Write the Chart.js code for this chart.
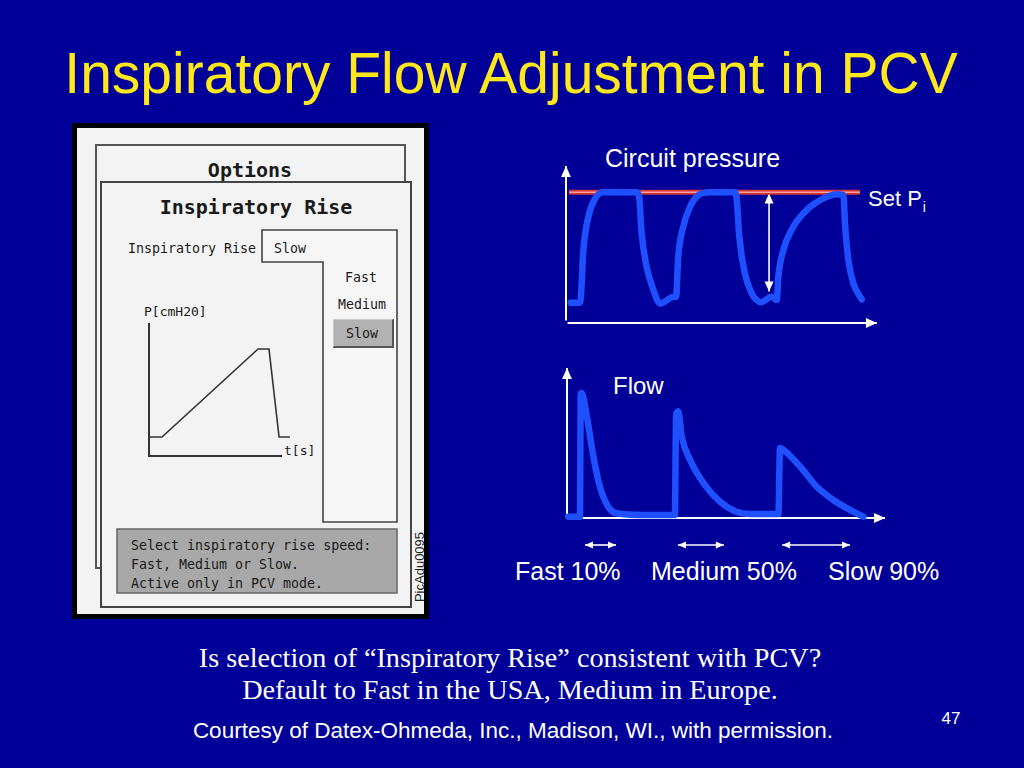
<!DOCTYPE html>
<html>
<head>
<meta charset="utf-8">
<script src="https://cdn.jsdelivr.net/npm/chart.js@4.4.1/dist/chart.umd.min.js"></script>
<style>
  html, body { margin: 0; padding: 0; background: #000099; }
  #slide { position: relative; width: 1024px; height: 768px; background: #000099; overflow: hidden; }
  #slide svg { position: absolute; left: 0; top: 0; }
  canvas { position: absolute; }
  #screenChart { left: 140px; top: 318px; }
  #pressChart { left: 556px; top: 150px; }
  #flowChart { left: 556px; top: 355px; }
  .mono { font-family: "DejaVu Sans Mono", monospace; fill: #1a1a1a; }
  .sans { font-family: "Liberation Sans", Arial, sans-serif; }
  .serif { font-family: "Liberation Serif", "Times New Roman", serif; }
</style>
</head>
<body>
<div id="slide">
<svg width="1024" height="768" viewBox="0 0 1024 768">
  <text x="511" y="93" text-anchor="middle" class="sans" font-size="57" fill="#ffe81a">Inspiratory Flow Adjustment in PCV</text>

  <!-- screenshot of the ventilator screen -->
  <rect x="72" y="123" width="357" height="496" fill="#000"/>
  <rect x="77" y="128" width="347" height="486" fill="#f3f3f3"/>
  <rect x="96" y="145" width="309" height="423" fill="#f3f3f3" stroke="#555" stroke-width="2"/>
  <text x="250" y="170" text-anchor="middle" dominant-baseline="central" class="mono" font-size="20" font-weight="bold" fill="#111">Options</text>
  <rect x="101" y="182" width="310" height="425" fill="#f3f3f3" stroke="#444" stroke-width="2"/>
  <text x="256" y="207" text-anchor="middle" dominant-baseline="central" class="mono" font-size="20" font-weight="bold" fill="#111">Inspiratory Rise</text>
  <text x="128" y="248" dominant-baseline="central" class="mono" font-size="13.3">Inspiratory Rise</text>
  <path d="M262,230 H397 V522 H323 V262 H262 Z" fill="#f6f6f6" stroke="#444" stroke-width="1.6"/>
  <text x="274" y="248" dominant-baseline="central" class="mono" font-size="13.3">Slow</text>
  <text x="361" y="277" text-anchor="middle" dominant-baseline="central" class="mono" font-size="13.3">Fast</text>
  <text x="362" y="304" text-anchor="middle" dominant-baseline="central" class="mono" font-size="13.3">Medium</text>
  <rect x="333" y="319" width="60" height="28" fill="#b2b2b2"/>
  <path d="M333,347 H393 V319" fill="none" stroke="#555" stroke-width="2"/>
  <path d="M333,347 V319 H393" fill="none" stroke="#e8e8e8" stroke-width="1"/>
  <text x="362" y="333" text-anchor="middle" dominant-baseline="central" class="mono" font-size="13.3">Slow</text>
  <text x="144" y="311" dominant-baseline="central" class="mono" font-size="13">P[cmH20]</text>
  <text x="284" y="450" dominant-baseline="central" class="mono" font-size="13">t[s]</text>
  <rect x="117" y="529" width="280" height="64" fill="#a8a8a8" stroke="#666" stroke-width="1.5"/>
  <text x="131" y="545" dominant-baseline="central" class="mono" font-size="13.3">Select inspiratory rise speed:</text>
  <text x="131" y="564" dominant-baseline="central" class="mono" font-size="13.3">Fast, Medium or Slow.</text>
  <text x="131" y="583" dominant-baseline="central" class="mono" font-size="13.3">Active only in PCV mode.</text>
  <text x="419" y="567" text-anchor="middle" dominant-baseline="central" class="sans" font-size="13" fill="#222" transform="rotate(-90 419 567)">PicAdu0095</text>

  <!-- chart labels -->
  <text x="605" y="167" class="sans" font-size="25" fill="#fff">Circuit pressure</text>
  <text x="868" y="206" class="sans" font-size="22" fill="#fff">Set P<tspan font-size="14" dy="6" dx="1">i</tspan></text>
  <text x="613" y="394" class="sans" font-size="24" fill="#fff">Flow</text>
  <text x="515" y="580" class="sans" font-size="25" fill="#fff">Fast 10%</text>
  <text x="651" y="580" class="sans" font-size="25" fill="#fff">Medium 50%</text>
  <text x="828" y="580" class="sans" font-size="25" fill="#fff">Slow 90%</text>

  <text x="510" y="667" text-anchor="middle" class="serif" font-size="28.2" fill="#fff">Is selection of “Inspiratory Rise” consistent with PCV?</text>
  <text x="510" y="699" text-anchor="middle" class="serif" font-size="28.2" fill="#fff">Default to Fast in the USA, Medium in Europe.</text>
  <text x="513" y="738" text-anchor="middle" class="sans" font-size="22.5" fill="#fff">Courtesy of Datex-Ohmeda, Inc., Madison, WI., with permission.</text>
  <text x="951" y="724" text-anchor="middle" class="sans" font-size="17" fill="#fff">47</text>
</svg>
<canvas id="screenChart" width="160" height="145"></canvas>
<canvas id="pressChart" width="340" height="185"></canvas>
<canvas id="flowChart" width="340" height="200"></canvas>
</div>
<script>
// circuit pressure, % of set Pi, over time (arbitrary units)
const pressT = [1.5, 4.3, 4.7, 5.6, 7.2, 9.4, 12.0, 22.8, 23.6, 24.4, 26.0, 28.2, 30.3, 34.8,
  35.5, 36.2, 37.8, 40.0, 42.7, 46.5, 54.5, 55.1, 55.9, 57.7, 59.9, 61.5, 62.8, 66.4,
  68.0, 68.5, 70.1, 73.3, 77.6, 83.0, 87.3, 89.5, 90.0, 91.1, 92.7, 95.4];
const pressV = [15.5, 15.5, 17.6, 55.7, 81.1, 95.2, 100, 100, 96.4, 68.5, 43.0, 25.2, 15.0, 20.1,
  20.1, 50.6, 73.5, 88.8, 97.7, 100, 100, 93.9, 65.9, 37.9, 22.7, 17.6, 15.8, 20.1,
  17.6, 35.3, 55.7, 73.5, 86.3, 95.2, 98.5, 97.7, 76.1, 48.1, 30.3, 18.1];
const setPiT = [1, 94.8];
const setPiV = [100, 100];

// inspiratory flow over the same time axis
const flowT = [0.4, 4.2, 4.4, 4.7, 6.4, 8.5, 10.6, 13.3, 16.0, 24.6, 34.8,
  35.2, 35.9, 37.0, 39.7, 44.0, 49.4, 54.7, 59.0, 68.2,
  68.7, 69.8, 75.2, 80.5, 85.9, 91.3, 95.6];
const flowV = [1.0, 1.0, 94.6, 95.9, 77.9, 47.2, 24.1, 8.7, 3.6, 2.3, 2.3,
  79.2, 81.8, 62.5, 44.6, 26.7, 12.5, 4.8, 3.1, 3.1,
  53.6, 52.3, 39.5, 24.1, 13.8, 6.2, 1.0];

// rise time ranges (Fast 10%, Medium 50%, Slow 90%)
const riseStart = [5.8, 35.8, 69.4];
const riseEnd = [15.8, 50.6, 91.3];

// pressure curve shown on the ventilator screen
const screenT = [0, 0.93, 7.79, 8.57, 9.29, 10.07];
const screenV = [1.43, 1.43, 8.05, 8.05, 1.43, 1.43];

const pts = (xs, ys) => xs.map((x, i) => ({ x: x, y: ys[i] }));

function head(ctx, x, y, ang, size) {
  const w = size * 0.45;
  ctx.beginPath();
  ctx.moveTo(x, y);
  ctx.lineTo(x - size * Math.cos(ang) + w * Math.sin(ang), y - size * Math.sin(ang) - w * Math.cos(ang));
  ctx.lineTo(x - size * Math.cos(ang) - w * Math.sin(ang), y - size * Math.sin(ang) + w * Math.cos(ang));
  ctx.closePath();
  ctx.fill();
}

function arrowLine(ctx, x1, y1, x2, y2, size, both) {
  const ang = Math.atan2(y2 - y1, x2 - x1);
  ctx.beginPath();
  ctx.moveTo(x1, y1);
  ctx.lineTo(x2, y2);
  ctx.stroke();
  head(ctx, x2, y2, ang, size);
  if (both) head(ctx, x1, y1, ang + Math.PI, size);
}

function baseOptions(padding, xMax, yMax) {
  return {
    responsive: false,
    animation: false,
    layout: { padding: padding },
    scales: {
      x: { type: 'linear', display: false, min: 0, max: xMax },
      y: { type: 'linear', display: false, min: 0, max: yMax }
    },
    plugins: { legend: { display: false }, tooltip: { enabled: false } },
    elements: { point: { radius: 0 } }
  };
}

const pressAxes = {
  id: 'pressAxes',
  beforeDatasetsDraw(chart) {
    const ctx = chart.ctx, x = chart.scales.x, y = chart.scales.y;
    ctx.save();
    ctx.strokeStyle = '#fff';
    ctx.fillStyle = '#fff';
    ctx.lineWidth = 2;
    arrowLine(ctx, x.getPixelForValue(0), y.getPixelForValue(2), x.getPixelForValue(0), y.getPixelForValue(120), 11, false);
    arrowLine(ctx, x.getPixelForValue(0.5), y.getPixelForValue(0), x.getPixelForValue(100.3), y.getPixelForValue(0), 11, false);
    ctx.lineWidth = 1.6;
    arrowLine(ctx, x.getPixelForValue(65.5), y.getPixelForValue(24), x.getPixelForValue(65.5), y.getPixelForValue(99), 10, true);
    ctx.restore();
  }
};

const flowAxes = {
  id: 'flowAxes',
  beforeDatasetsDraw(chart) {
    const ctx = chart.ctx, x = chart.scales.x, y = chart.scales.y;
    ctx.save();
    ctx.strokeStyle = '#fff';
    ctx.fillStyle = '#fff';
    ctx.lineWidth = 2;
    arrowLine(ctx, x.getPixelForValue(0), y.getPixelForValue(-0.5), x.getPixelForValue(0), y.getPixelForValue(115), 11, false);
    arrowLine(ctx, x.getPixelForValue(0), y.getPixelForValue(0), x.getPixelForValue(102.6), y.getPixelForValue(0), 11, false);
    ctx.lineWidth = 1.6;
    const ay = chart.chartArea.bottom + 27;
    riseStart.forEach((s, i) => {
      arrowLine(ctx, x.getPixelForValue(s), ay, x.getPixelForValue(riseEnd[i]), ay, 8, true);
    });
    ctx.restore();
  }
};

const screenAxes = {
  id: 'screenAxes',
  beforeDatasetsDraw(chart) {
    const ctx = chart.ctx, x = chart.scales.x, y = chart.scales.y;
    ctx.save();
    ctx.strokeStyle = '#333';
    ctx.lineWidth = 2;
    ctx.beginPath();
    ctx.moveTo(x.getPixelForValue(0), y.getPixelForValue(10));
    ctx.lineTo(x.getPixelForValue(0), y.getPixelForValue(0));
    ctx.lineTo(x.getPixelForValue(9.5), y.getPixelForValue(0));
    ctx.stroke();
    ctx.restore();
  }
};

new Chart(document.getElementById('pressChart'), {
  type: 'scatter',
  data: {
    datasets: [{
      data: pts(pressT, pressV),
      showLine: true,
      borderColor: '#1f50ff',
      borderWidth: 6.5,
      borderCapStyle: 'round',
      borderJoinStyle: 'round',
      cubicInterpolationMode: 'monotone',
      clip: false
    }, {
      data: pts(setPiT, setPiV),
      showLine: true,
      borderColor: '#f2a0a0',
      borderWidth: 1.5
    }, {
      data: pts(setPiT, setPiV),
      showLine: true,
      borderColor: '#d83232',
      borderWidth: 5
    }]
  },
  options: baseOptions({ left: 10, right: 20, top: 16, bottom: 12 }, 100, 120),
  plugins: [pressAxes]
});

new Chart(document.getElementById('flowChart'), {
  type: 'scatter',
  data: {
    datasets: [{
      data: pts(flowT, flowV),
      showLine: true,
      borderColor: '#1f50ff',
      borderWidth: 6.5,
      borderCapStyle: 'round',
      borderJoinStyle: 'round',
      cubicInterpolationMode: 'monotone',
      clip: false
    }]
  },
  options: baseOptions({ left: 11, right: 19, top: 13, bottom: 37 }, 100, 115),
  plugins: [flowAxes]
});

new Chart(document.getElementById('screenChart'), {
  type: 'scatter',
  data: {
    datasets: [{
      data: pts(screenT, screenV),
      showLine: true,
      borderColor: '#333',
      borderWidth: 1.6,
      clip: false
    }]
  },
  options: baseOptions({ left: 9, right: 11, top: 5, bottom: 7 }, 10, 10),
  plugins: [screenAxes]
});
</script>
</body>
</html>
